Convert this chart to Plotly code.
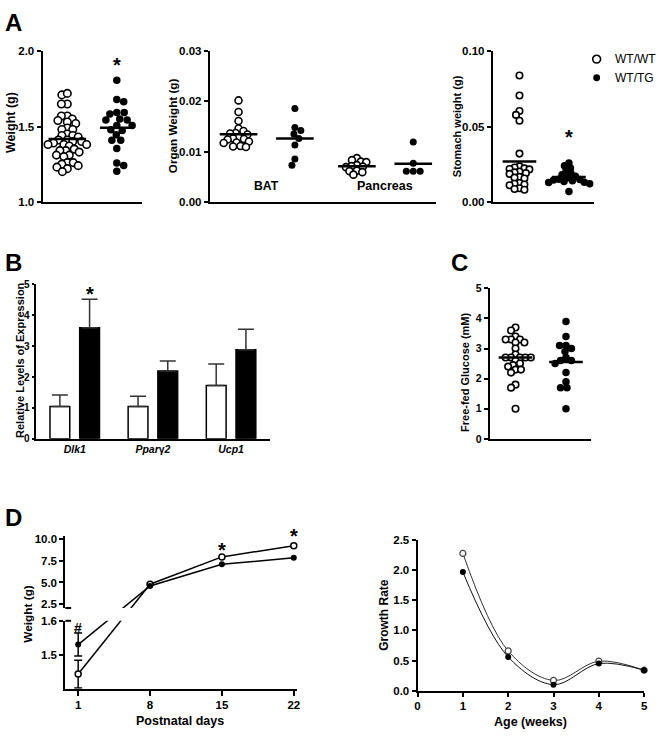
import plotly.graph_objects as go
import numpy as np

# ---------------- data ----------------
body_wt = [1.71, 1.72, 1.65, 1.65, 1.57, 1.57, 1.54, 1.55, 1.52, 1.53, 1.49, 1.48, 1.48,
           1.45, 1.44, 1.44, 1.43, 1.41, 1.41, 1.40, 1.40, 1.39, 1.38, 1.38, 1.38, 1.37,
           1.35, 1.34, 1.34, 1.33, 1.31, 1.31, 1.30, 1.26, 1.26, 1.25, 1.23, 1.24, 1.22, 1.20]
body_tg = [1.807, 1.68, 1.665, 1.593, 1.583, 1.593, 1.543, 1.55, 1.543, 1.507, 1.507,
           1.474, 1.478, 1.446, 1.409, 1.409, 1.354, 1.257, 1.241, 1.202]

bat_wt = [0.0202, 0.0179, 0.0161, 0.0146, 0.0141, 0.0137, 0.0136, 0.0134, 0.0128, 0.0126,
          0.0125, 0.0124, 0.0120, 0.0118, 0.0117, 0.0111, 0.0110, 0.0109]
bat_tg = [0.0186, 0.0148, 0.0142, 0.0135, 0.0126, 0.0113, 0.0085, 0.0073]
panc_wt = [0.0087, 0.0083, 0.0080, 0.0079, 0.0073, 0.0071, 0.0070, 0.0069, 0.0062,
           0.0061, 0.0059, 0.0054]
panc_tg = [0.0119, 0.0077, 0.0061, 0.0061, 0.0061]
organ_labels = ["BAT", "Pancreas"]

stomach_wt = [0.0839, 0.0706, 0.0603, 0.0577, 0.0538, 0.0320,
              0.0235, 0.0228, 0.0222, 0.0218, 0.0215, 0.0200, 0.0195, 0.0190, 0.0185,
              0.0165, 0.0160, 0.0155, 0.0125, 0.0120, 0.0115, 0.0110, 0.0090, 0.0085, 0.0080]
stomach_tg = [0.0258, 0.0240, 0.0225, 0.0205, 0.0190, 0.0180, 0.0170, 0.0160, 0.0150,
              0.0148, 0.0145, 0.0140, 0.0135, 0.0130, 0.0128, 0.0120, 0.0068]

genes = ["<i>Dlk1</i>", "<i>Ppar</i>γ<i>2</i>", "<i>Ucp1</i>"]
expr_wt = [1.05, 1.05, 1.73]
expr_wt_err = [0.37, 0.33, 0.69]
expr_tg = [3.60, 2.20, 2.88]
expr_tg_err = [0.92, 0.32, 0.67]

gluc_wt = [3.7, 3.6, 3.4, 3.3, 3.3, 3.3, 3.2, 3.2, 3.0, 2.8, 2.7, 2.7, 2.7, 2.7, 2.7,
           2.6, 2.5, 2.45, 2.4, 2.3, 2.3, 2.2, 1.8, 1.7, 1.0]
gluc_tg = [3.9, 3.4, 3.1, 3.1, 3.0, 2.9, 2.7, 2.6, 2.6, 2.5, 2.2, 1.9, 1.7, 1.7, 1.0]

days = [1, 8, 15, 22]
weight_wt = [1.443, 4.80, 7.95, 9.24]
weight_tg = [1.530, 4.60, 7.10, 7.84]
weight_wt_err = [0.041, 0, 0, 0]
weight_tg_err = [0.034, 0, 0, 0]

weeks = [1, 2, 3, 4, 5]
growth_wt = [2.28, 0.66, 0.17, 0.49, 0.34]
growth_tg = [1.97, 0.56, 0.10, 0.45, 0.34]

group_names = ["WT/WT", "WT/TG"]

# ---------------- geometry ----------------
W, H = 661, 736
FONT = "Liberation Sans, Arial, Helvetica, sans-serif"


def fx(p):
    return p / W


def fy(p):
    return 1 - p / H


# panel boxes: (left, right, top, bottom) in px
boxes = {
    1: (40, 140, 46, 199),
    2: (209, 438, 46, 199),
    3: (495, 597, 46, 199),
    4: (33, 270, 283, 440),
    5: (492, 594, 287, 440),
    6: (63, 297, 625, 694),
    7: (63, 297, 539, 612),
    8: (419, 648, 543, 696),
}
xranges = {1: [-0.5, 1.5], 2: [-0.51, 3.51], 3: [-0.54, 1.5], 4: [-0.5, 2.5],
           5: [-0.51, 1.49], 6: [-0.25, 22.3], 7: [-0.25, 22.3], 8: [0, 5]}
yranges = {1: [1.0, 2.0], 2: [0, 0.03], 3: [0, 0.10], 4: [0, 5], 5: [0, 5],
           6: [1.4, 1.6], 7: [2.05, 10.34], 8: [0, 2.5]}


def tf(size):
    return dict(family=FONT, size=size, color="black", weight="bold")


base = dict(showline=True, linecolor="black", linewidth=2, ticks="outside", ticklen=4,
            tickwidth=2, tickcolor="black", showgrid=False, zeroline=False,
            tickfont=tf(11.5), fixedrange=True)

BARGAP = 0.24
layout = dict(autosize=True, margin=dict(l=0, r=0, t=0, b=0), showlegend=False,
              paper_bgcolor="white", plot_bgcolor="white", font=dict(family=FONT),
              bargap=BARGAP, bargroupgap=1 / 3, barmode="group",
              annotations=[], shapes=[])

xextra = {
    1: dict(ticks="", showticklabels=False),
    2: dict(ticks="", showticklabels=False),
    3: dict(ticks="", showticklabels=False),
    4: dict(ticks="", tickvals=[0, 1, 2], ticktext=genes, tickfont=tf(10.5)),
    5: dict(ticks="", showticklabels=False),
    6: dict(tickvals=days, ticklen=5),
    7: dict(visible=False),
    8: dict(tickvals=[0, 1, 2, 3, 4, 5]),
}
yextra = {
    1: dict(tickvals=[1.0, 1.5, 2.0], tickformat=".1f"),
    2: dict(tickvals=[0, 0.01, 0.02, 0.03], tickformat=".2f"),
    3: dict(tickvals=[0, 0.05, 0.10], tickformat=".2f"),
    4: dict(tickvals=[0, 1, 2, 3, 4, 5], ticklen=2, tickfont=tf(10)),
    5: dict(tickvals=[0, 1, 2, 3, 4, 5], tickfont=tf(10.5)),
    6: dict(tickvals=[1.5, 1.6], tickformat=".1f"),
    7: dict(tickvals=[2.5, 5.0, 7.5, 10.0], tickformat=".1f"),
    8: dict(tickvals=[0, 0.5, 1.0, 1.5, 2.0, 2.5], tickformat=".1f"),
}

for i, (l, r, t, b) in boxes.items():
    xn = "xaxis" if i == 1 else f"xaxis{i}"
    yn = "yaxis" if i == 1 else f"yaxis{i}"
    xa = dict(base)
    xa.update(domain=[fx(l), fx(r)], range=xranges[i], anchor="y" if i == 1 else f"y{i}")
    xa.update(xextra[i])
    ya = dict(base)
    ya.update(domain=[fy(b), fy(t)], range=yranges[i], anchor="x" if i == 1 else f"x{i}")
    ya.update(yextra[i])
    layout[xn] = xa
    layout[yn] = ya


def ref(i):
    return ("x", "y") if i == 1 else (f"x{i}", f"y{i}")


def px_per_x(i):
    l, r, t, b = boxes[i]
    return (r - l) / (xranges[i][1] - xranges[i][0])


def px_per_y(i):
    l, r, t, b = boxes[i]
    return (b - t) / (yranges[i][1] - yranges[i][0])


def swarm(vals, ppy, dia):
    vals = np.asarray(vals, dtype=float)
    order = np.argsort(-vals, kind="stable")
    placed = []
    offs = np.zeros(len(vals))
    for n, idx in enumerate(order):
        y = vals[idx] * ppy
        k = 0.0
        sign = 1 if n % 2 == 0 else -1
        while True:
            cands = [0.0] if k == 0 else [sign * k, -sign * k]
            found = None
            for c in cands:
                if all((c - px) ** 2 + (y - py) ** 2 >= dia ** 2 for px, py in placed):
                    found = c
                    break
            if found is not None:
                break
            k += 0.5
        placed.append((found, y))
        offs[idx] = found
    return offs


fig = go.Figure()


def add_group(i, pos, vals, filled, dia, half_px, pack=None):
    xr, yr = ref(i)
    if pack is None:
        pack = 0.82 if filled else 0.63
    offs = swarm(vals, px_per_y(i), dia * pack)
    xs = pos + offs / px_per_x(i)
    if filled:
        marker = dict(color="black", size=dia, line=dict(width=0))
    else:
        marker = dict(color="white", size=dia - 1.5, line=dict(color="black", width=1.6))
    fig.add_trace(go.Scatter(x=xs, y=vals, mode="markers", marker=marker, xaxis=xr, yaxis=yr,
                             name=group_names[1 if filled else 0], hoverinfo="skip"))
    m = float(np.mean(vals))
    h = half_px / px_per_x(i)
    fig.add_trace(go.Scatter(x=[pos - h, pos + h], y=[m, m], mode="lines",
                             line=dict(color="black", width=2.5), xaxis=xr, yaxis=yr,
                             hoverinfo="skip"))


# Panel A
add_group(1, 0, body_wt, False, 9, 19)
add_group(1, 1, body_tg, True, 7.5, 17, pack=0.95)
add_group(2, 0, bat_wt, False, 8.5, 19)
add_group(2, 1, bat_tg, True, 7, 19, pack=0.95)
add_group(2, 2.1, panc_wt, False, 8.5, 19)
add_group(2, 3.1, panc_tg, True, 7, 19, pack=0.95)
add_group(3, 0, stomach_wt, False, 8, 17)
add_group(3, 1, stomach_tg, True, 7.5, 17, pack=0.7)

# Panel B
fig.add_trace(go.Bar(x=[0, 1, 2], y=expr_wt, marker=dict(color="white", line=dict(color="black", width=1.5)),
                     error_y=dict(type="data", symmetric=False, array=expr_wt_err, arrayminus=[0, 0, 0],
                                  color="#333", thickness=1.5, width=8),
                     xaxis="x4", yaxis="y4", name=group_names[0], hoverinfo="skip"))
fig.add_trace(go.Bar(x=[0, 1, 2], y=expr_tg, marker=dict(color="black", line=dict(color="black", width=1.5)),
                     error_y=dict(type="data", symmetric=False, array=expr_tg_err, arrayminus=[0, 0, 0],
                                  color="#333", thickness=1.5, width=8),
                     xaxis="x4", yaxis="y4", name=group_names[1], hoverinfo="skip"))

# Panel C
add_group(5, 0, gluc_wt, False, 8, 17)
add_group(5, 1, gluc_tg, True, 7.5, 17)

# Panel D1 with broken axis
lo_b = boxes[6][3]
up_b = boxes[7][3]


def low_pix(v):
    return lo_b - (v - yranges[6][0]) * px_per_y(6)


def up_pix(v):
    return up_b - (v - yranges[7][0]) * px_per_y(7)


def low_from_pix(p):
    return yranges[6][0] + (lo_b - p) / px_per_y(6)


def up_from_pix(p):
    return yranges[7][0] + (up_b - p) / px_per_y(7)


for vals in [weight_wt, weight_tg]:
    line = dict(color="black", width=1.5)
    fig.add_trace(go.Scatter(x=days[:2], y=[vals[0], low_from_pix(up_pix(vals[1]))], mode="lines",
                             line=line, xaxis="x6", yaxis="y6", hoverinfo="skip"))
    fig.add_trace(go.Scatter(x=days, y=[up_from_pix(low_pix(vals[0]))] + vals[1:], mode="lines",
                             line=line, xaxis="x7", yaxis="y7", hoverinfo="skip"))
for vals, errs, filled in [(weight_wt, weight_wt_err, False), (weight_tg, weight_tg_err, True)]:
    if filled:
        mk = dict(color="black", size=6, line=dict(width=0))
    else:
        mk = dict(color="white", size=6, line=dict(color="black", width=1.5))
    fig.add_trace(go.Scatter(x=days[:1], y=vals[:1], mode="markers", marker=mk,
                             error_y=dict(type="data", array=errs[:1], color="black", thickness=1.5, width=4),
                             xaxis="x6", yaxis="y6", hoverinfo="skip", cliponaxis=False))
    fig.add_trace(go.Scatter(x=days[1:], y=vals[1:], mode="markers", marker=mk,
                             xaxis="x7", yaxis="y7", hoverinfo="skip", cliponaxis=False))

# Panel D2
fig.add_trace(go.Scatter(x=weeks, y=growth_wt, mode="lines+markers",
                         line=dict(shape="spline", smoothing=1.0, color="#333", width=1),
                         marker=dict(color="white", size=6, line=dict(color="#444", width=1.2)),
                         xaxis="x8", yaxis="y8", hoverinfo="skip", cliponaxis=False))
fig.add_trace(go.Scatter(x=weeks, y=growth_tg, mode="lines+markers",
                         line=dict(shape="spline", smoothing=1.0, color="#111", width=1),
                         marker=dict(color="black", size=6, line=dict(width=0)),
                         xaxis="x8", yaxis="y8", hoverinfo="skip", cliponaxis=False))

# ---------------- annotations ----------------
ann = layout["annotations"]


def txt(x, y, s, size=11, xref="paper", yref="paper", angle=0, yshift=0, bold=True,
        xanchor="center"):
    ann.append(dict(x=x, y=y, text=s, xref=xref, yref=yref, showarrow=False, textangle=angle,
                    yshift=yshift, xanchor=xanchor, yanchor="middle",
                    font=dict(family=FONT, size=size, color="black", weight="bold" if bold else "normal")))


# panel letters
txt(fx(11), fy(17), "A", size=24)
txt(fx(11), fy(261), "B", size=24)
txt(fx(461), fy(261), "C", size=24)
txt(fx(11), fy(520), "D", size=24)

# axis titles
txt(fx(8), fy(118), "Weight (g)", size=12.5, angle=-90)
txt(fx(171), fy(122), "Organ Weight (g)", size=11.7, angle=-90)
txt(fx(459), fy(122), "Stomach weight (g)", size=11, angle=-90)
txt(fx(17), fy(360), "Relative Levels of Expression", size=11, angle=-90)
txt(fx(467), fy(372), "Free-fed Glucose (mM)", size=11, angle=-90)
txt(fx(25), fy(618), "Weight (g)", size=11.8, angle=-90)
txt(fx(179), fy(727), "Postnatal days", size=12.5)
txt(fx(385), fy(619), "Growth Rate", size=12, angle=-90)
txt(fx(533), fy(728), "Age (weeks)", size=12.5)

# organ labels
txt(0.5, 0.0031, organ_labels[0], size=12.2, xref="x2", yref="y2")
txt(2.6, 0.0031, organ_labels[1], size=12.5, xref="x2", yref="y2")

# significance marks
bar_off = (1 - BARGAP) / 4
txt(1, max(body_tg), "*", size=20, xref="x", yref="y", yshift=15)
txt(1, max(stomach_tg), "*", size=20, xref="x3", yref="y3", yshift=26)
txt(0 + bar_off, expr_tg[0] + expr_tg_err[0], "*", size=20, xref="x4", yref="y4", yshift=5)
txt(15, weight_wt[2], "*", size=20, xref="x7", yref="y7", yshift=7)
txt(22, weight_wt[3], "*", size=20, xref="x7", yref="y7", yshift=10)
txt(1, weight_tg[0], "#", size=14, xref="x6", yref="y6", yshift=17)


# legend (key symbols + labels)
def key_circle(cx, cy, d, filled):
    layout["shapes"].append(dict(type="circle", xref="paper", yref="paper",
                                 x0=fx(cx - d / 2), x1=fx(cx + d / 2), y0=fy(cy + d / 2), y1=fy(cy - d / 2),
                                 fillcolor="black" if filled else "white",
                                 line=dict(color="black", width=1.6 if not filled else 0)))


key_circle(600, 54, 8, False)
key_circle(600, 73, 7, True)
txt(fx(617), fy(54), group_names[0], size=12, bold=False, xanchor="left")
txt(fx(617), fy(73), group_names[1], size=12, bold=False, xanchor="left")

# axis-break caps
layout["shapes"] += [
    dict(type="line", xref="x6 domain", yref="y6 domain", x0=0, x1=0.025, y0=1, y1=1,
         line=dict(color="black", width=2)),
    dict(type="line", xref="x7 domain", yref="y7 domain", x0=0, x1=0.025, y0=0, y1=0,
         line=dict(color="black", width=2)),
]

fig.update_layout(**layout)
fig.write_html("out.html", config={"displayModeBar": False},
               default_width=f"{W}px; position:absolute; left:0px; top:0px",
               default_height=f"{H}px")
